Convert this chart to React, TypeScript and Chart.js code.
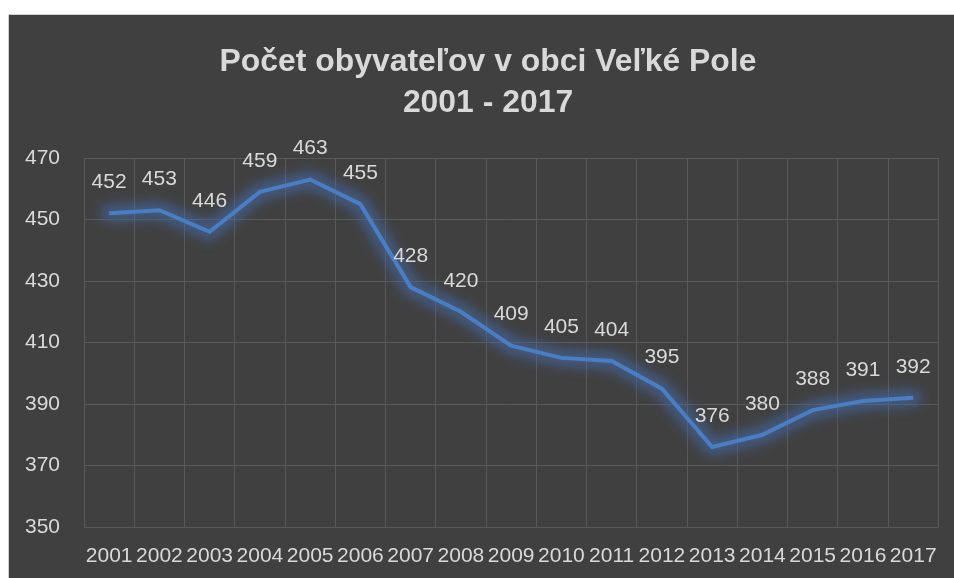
import React, { useEffect, useRef } from "react";
import { Chart, registerables } from "chart.js";

Chart.register(...registerables);

const years = ["2001","2002","2003","2004","2005","2006","2007","2008","2009","2010","2011","2012","2013","2014","2015","2016","2017"];
const population = [452,453,446,459,463,455,428,420,409,405,404,395,376,380,388,391,392];
const titleLines = ["Počet obyvateľov v obci Veľké Pole", "2001 - 2017"];

const FONT = "'Liberation Sans', Arial, sans-serif";
const TEXT = "#d9d9d9";
const BG = "#404040";
const GRID = "#595959";

export default function App() {
  const ref = useRef<HTMLCanvasElement>(null);
  useEffect(() => {
    const canvas = ref.current!;
    const bgPlugin = {
      id: "bgTitle",
      beforeDraw(chart: any) {
        const ctx = chart.ctx;
        ctx.save();
        ctx.fillStyle = BG;
        ctx.fillRect(0, 0, chart.width, chart.height);
        ctx.fillStyle = "#d0d0d0";
        ctx.fillRect(0, 0, chart.width, 1);
        ctx.fillRect(0, 0, 1, chart.height);
        ctx.fillStyle = TEXT;
        ctx.textAlign = "center";
        ctx.textBaseline = "middle";
        let size = 32;
        ctx.font = `bold ${size}px ${FONT}`;
        const w = ctx.measureText(titleLines[0]).width;
        size = Math.min(32, size * 537 / w);
        ctx.font = `bold ${size}px ${FONT}`;
        ctx.fillText(titleLines[0], 480, 48);
        ctx.fillText(titleLines[1], 480, 89);
        ctx.restore();
      },
    };
    const glowPlugin = {
      id: "glow",
      beforeDatasetsDraw(chart: any) {
        const ctx = chart.ctx;
        const meta = chart.getDatasetMeta(0);
        const path = () => {
          ctx.beginPath();
          meta.data.forEach((pt: any, i: number) => {
            if (i === 0) ctx.moveTo(pt.x, pt.y);
            else ctx.lineTo(pt.x, pt.y);
          });
        };
        ctx.save();
        ctx.lineJoin = "round";
        ctx.lineCap = "round";
        ctx.filter = "blur(6px)";
        path();
        ctx.strokeStyle = "rgba(70,112,180,0.55)";
        ctx.lineWidth = 18;
        ctx.stroke();
        ctx.restore();
      },
      afterDatasetsDraw(chart: any) {
        const ctx = chart.ctx;
        const meta = chart.getDatasetMeta(0);
        ctx.save();
        ctx.fillStyle = TEXT;
        ctx.font = `21px ${FONT}`;
        ctx.textAlign = "center";
        ctx.textBaseline = "middle";
        meta.data.forEach((pt: any, i: number) => {
          ctx.fillText(String(population[i]), pt.x, pt.y - 31);
        });
        ctx.restore();
      },
    };
    const chart = new Chart(canvas, {
      type: "line",
      data: {
        labels: years,
        datasets: [
          {
            data: population,
            borderColor: "#4a7ec4",
            borderWidth: 4,
            pointRadius: 0,
            tension: 0,
            fill: false,
          },
        ],
      },
      options: {
        animation: false,
        responsive: false,
        events: [],
        layout: { padding: { top: 144, right: 15, left: 0, bottom: 0 } },
        plugins: { legend: { display: false }, title: { display: false }, tooltip: { enabled: false } },
        scales: {
          x: {
            offset: true,
            grid: { offset: true, color: GRID, lineWidth: 1, drawTicks: false },
            border: { display: false },
            ticks: { color: TEXT, font: { family: FONT, size: 21 }, padding: 17, maxRotation: 0, autoSkip: false },
            afterFit(scale: any) { scale.height = 51; },
          },
          y: {
            min: 350,
            max: 470,
            ticks: { stepSize: 20, color: TEXT, font: { family: FONT, size: 21 }, padding: 24 },
            grid: { color: GRID, lineWidth: 1, drawTicks: false },
            border: { display: false },
            afterFit(scale: any) { scale.width = 76; },
          },
        },
      },
      plugins: [bgPlugin, glowPlugin],
    });
    return () => chart.destroy();
  }, []);
  return (
    <div style={{ position: "fixed", top: 14, left: 8, width: 946, height: 564, overflow: "hidden" }}>
      <canvas ref={ref} width={946} height={564} style={{ display: "block", width: 946, height: 564 }} />
    </div>
  );
}
